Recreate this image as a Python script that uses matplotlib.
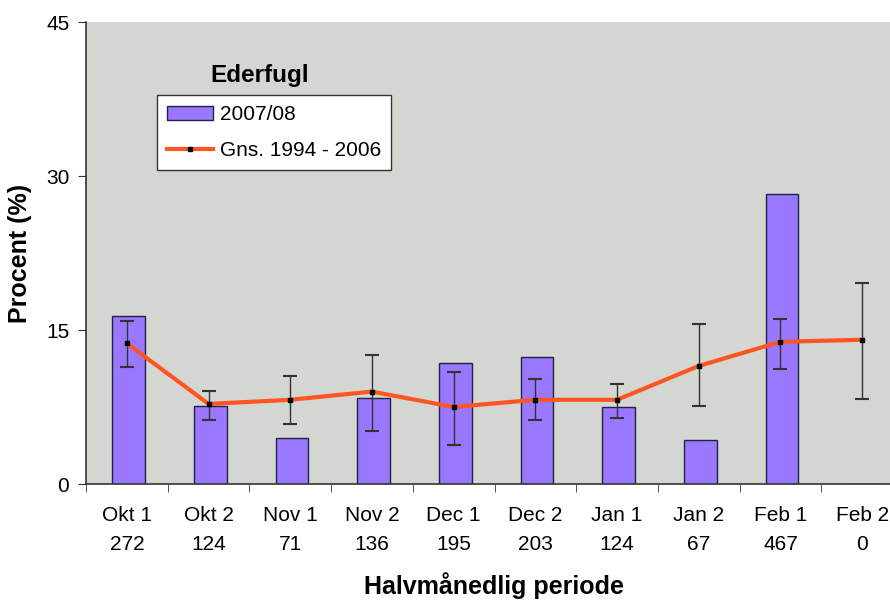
import matplotlib.pyplot as plt
import numpy as np

plt.rcParams['font.family'] = ['Liberation Sans', 'DejaVu Sans']

# Data
periods = ['Okt 1', 'Okt 2', 'Nov 1', 'Nov 2', 'Dec 1', 'Dec 2', 'Jan 1', 'Jan 2', 'Feb 1', 'Feb 2']
counts = [272, 124, 71, 136, 195, 203, 124, 67, 467, 0]
season_2007 = [16.4, 7.6, 4.5, 8.35, 11.75, 12.4, 7.5, 4.25, 28.2, 0]
mean_1994_2006 = [13.7, 7.8, 8.2, 9.0, 7.5, 8.2, 8.2, 11.5, 13.85, 14.05]
err_upper = [15.9, 9.1, 10.5, 12.6, 10.9, 10.2, 9.7, 15.55, 16.1, 19.6]
err_lower = [11.4, 6.2, 5.8, 5.2, 3.8, 6.2, 6.4, 7.55, 11.2, 8.3]

x = np.arange(len(periods))
yerr = [np.array(mean_1994_2006) - np.array(err_lower),
        np.array(err_upper) - np.array(mean_1994_2006)]

fig = plt.figure(figsize=(8.9, 6), dpi=100)
ax = fig.add_axes([86 / 890, 116 / 600, 817 / 890, 462 / 600])
ax.set_facecolor('#D4D6D1')

bars = ax.bar(x + 0.02, season_2007, width=0.4, color='#9977FF', edgecolor='#222244',
              linewidth=1.0, label='2007/08', zorder=2)
ax.errorbar(x, mean_1994_2006, yerr=yerr, fmt='none', ecolor='#333333',
            elinewidth=1.0, capsize=5.3, capthick=1.5, zorder=3)
line, = ax.plot(x, mean_1994_2006, '-s', color='#FF5522', linewidth=3,
                markerfacecolor='black', markeredgecolor='black', markersize=3,
                label='Gns. 1994 - 2006', zorder=4)

ax.set_xlim(-0.5, 9.5)
ax.set_ylim(0, 45)
ax.set_yticks([0, 15, 30, 45])
ax.set_xticks(x)
ax.set_xticklabels([f'{p}\n{c}' for p, c in zip(periods, counts)], fontsize=15,
                   linespacing=1.65)
ax.set_xticks(np.arange(-0.5, 10, 1), minor=True)
ax.tick_params(axis='x', which='major', length=0, pad=16)
ax.tick_params(axis='x', which='minor', length=6, color='#333333')
ax.tick_params(axis='y', labelsize=15, length=6, color='#333333', pad=6)

for side in ['top', 'right']:
    ax.spines[side].set_visible(False)
for side in ['left', 'bottom']:
    ax.spines[side].set_color('#333333')
    ax.spines[side].set_linewidth(1.2)

ax.set_ylabel('Procent (%)', fontsize=18, fontweight='bold')
ax.set_xlabel('Halvmånedlig periode', fontsize=18, fontweight='bold')
ax.yaxis.set_label_coords(-0.066, 0.5)
ax.xaxis.set_label_coords(0.5, -0.19)

ax.text(0.212, 0.885, 'Ederfugl', transform=ax.transAxes, fontsize=17.5,
        fontweight='bold', ha='center', va='center')
leg = ax.legend([bars, line], ['2007/08', 'Gns. 1994 - 2006'],
                loc='upper left', bbox_to_anchor=(0.087, 0.842), borderaxespad=0,
                fontsize=15, frameon=True, fancybox=False, framealpha=1,
                facecolor='white', edgecolor='#333333',
                handlelength=2.2, handleheight=0.6, borderpad=0.5,
                labelspacing=0.8, handletextpad=0.3)
leg.get_frame().set_linewidth(1.0)

fig.savefig('out.png', dpi=100)
